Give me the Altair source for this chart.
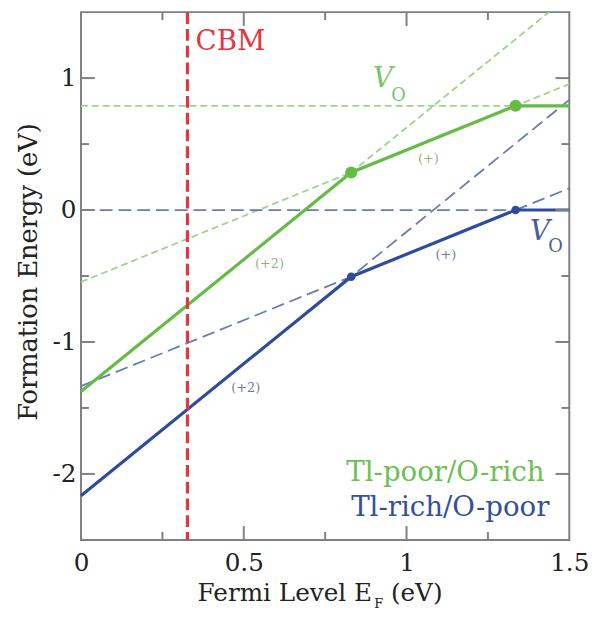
import altair as alt
import pandas as pd

FONT = "DejaVu Serif"
GREEN = "#64bc45"
GREEN_D = "#9ed38a"
BLUE = "#2e4b9e"
BLUE_D = "#6a7bb5"
RED = "#e4363f"
GREY = "#808080"
INK = "#222222"

# ---- data ----
# solid lines (lowest-energy charge state), knots at transition levels
green_x = [0, 0.83, 1.335, 1.5]
green_e = [-1.375, 0.285, 0.79, 0.79]
blue_x = [0, 0.83, 1.335, 1.5]
blue_e = [-2.165, -0.505, 0.0, 0.0]

# dashed lines: each charge state from x=0 to x=1.5 (q = 0, +1, +2)
charge_states = ["0", "+1", "+2"]
dash_x0 = [0, 0, 0]
dash_x1 = [1.5, 1.5, 1.5]
green_dash_e0 = [0.79, -0.545, -1.375]
green_dash_e1 = [0.79, 0.955, 1.625]
blue_dash_e0 = [0.0, -1.335, -2.165]
blue_dash_e1 = [0.0, 0.165, 0.835]

# transition-level dots
trans_x = [0.83, 1.335]
green_trans_e = [0.285, 0.79]
blue_trans_e = [-0.505, 0.0]

# conduction band minimum
cbm_x = [0.327]

# axis ticks
x_labels = [0, 0.5, 1, 1.5]
y_labels = [-2, -1, 0, 1]
x_major = [0.5, 1.0]
x_minor = [0.25, 0.75, 1.25]
y_major = [-2, -1, 0, 1]
y_minor = [-1.5, -0.5, 0.5]

W, H = 495, 535

xs = alt.Scale(domain=[0, 1.5], nice=False, zero=False)
ys = alt.Scale(domain=[-2.5, 1.5], nice=False, zero=False)

X_AXIS = alt.Axis(values=x_labels, labelExpr="'' + datum.value",
                  tickSize=0, domain=False, grid=False, labelPadding=11,
                  labelFont=FONT, labelFontSize=25, labelColor=INK,
                  labelFlush=False, labelOverlap=False, title=None)
Y_AXIS = alt.Axis(values=y_labels, labelExpr="'' + datum.value",
                  tickSize=0, domain=False, grid=False, labelPadding=5,
                  labelFont=FONT, labelFontSize=25, labelColor=INK,
                  labelFlush=False, labelOverlap=False,
                  title="Formation Energy (eV)", titleFont=FONT,
                  titleFontSize=26, titleFontWeight="normal", titleColor=INK,
                  titleX=-45, titleY=263, titleAngle=270, titleAlign="center",
                  titleBaseline="alphabetic")

def X(f="x"):
    return alt.X(f, type="quantitative", scale=xs, axis=X_AXIS)

def Y(f="y"):
    return alt.Y(f, type="quantitative", scale=ys, axis=Y_AXIS)

def dashes(e0, e1, color, dash, width):
    df = pd.DataFrame({"q": charge_states, "x": dash_x0, "x2": dash_x1, "y": e0, "y2": e1})
    return alt.Chart(df).mark_rule(color=color, strokeDash=dash, strokeWidth=width, clip=True).encode(
        x=X(), x2="x2", y=Y(), y2="y2")

green_dash = dashes(green_dash_e0, green_dash_e1, GREEN_D, [7, 4], 1.8)
blue_dash = dashes(blue_dash_e0, blue_dash_e1, BLUE_D, [13, 6], 1.8)

green_line = alt.Chart(pd.DataFrame({"x": green_x, "y": green_e})).mark_line(
    color=GREEN, strokeWidth=3.2).encode(x=X(), y=Y())
blue_line = alt.Chart(pd.DataFrame({"x": blue_x, "y": blue_e})).mark_line(
    color=BLUE, strokeWidth=3.2).encode(x=X(), y=Y())

green_dots = alt.Chart(pd.DataFrame({"x": trans_x, "y": green_trans_e})).mark_circle(
    color=GREEN, size=150, opacity=1).encode(x=X(), y=Y())
blue_dots = alt.Chart(pd.DataFrame({"x": trans_x, "y": blue_trans_e})).mark_circle(
    color=BLUE, size=75, opacity=1).encode(x=X(), y=Y())

cbm = alt.Chart(pd.DataFrame({"x": cbm_x})).mark_rule(
    color=RED, strokeWidth=3.2, strokeDash=[12, 5]).encode(x=X())

def label(x, y, text, color, size, align="left", baseline="alphabetic", style="normal"):
    df = pd.DataFrame({"x": [x], "y": [y], "t": [text]})
    return alt.Chart(df).mark_text(color=color, font=FONT, fontSize=size, align=align,
                                   baseline=baseline, fontStyle=style).encode(
        x=X(), y=Y(), text="t:N")

texts = [
    label(0.352, 1.215, "CBM", RED, 28),
    label(0.897, 0.93, "V", "#7cc46a", 28, style="italic"),
    label(0.953, 0.825, "O", "#7cc46a", 18),
    label(1.379, -0.23, "V", "#4b5b9c", 28, style="italic"),
    label(1.435, -0.32, "O", "#4b5b9c", 18),
    label(0.579, -0.41, "(+2)", "#8fb37f", 13, align="center", baseline="middle"),
    label(1.067, 0.39, "(+)", "#8fb37f", 13, align="center", baseline="middle"),
    label(1.121, -0.34, "(+)", "#6c79a8", 13, align="center", baseline="middle"),
    label(0.506, -1.35, "(+2)", "#6c79a8", 13, align="center", baseline="middle"),
    label(1.424, -2.056, "Tl-poor/O-rich", "#6cc052", 28, align="right"),
    label(1.439, -2.318, "Tl-rich/O-poor", "#34509a", 28, align="right"),
    # x-axis title with subscript
    label(0.358, -2.96, "Fermi Level E", INK, 25),
    label(0.901, -3.015, "F", INK, 13),
    label(0.952, -2.96, "(eV)", INK, 25),
]

def xticks(vals, length):
    df = pd.DataFrame({"x": vals})
    b = alt.Chart(df).mark_rule(color=GREY, strokeWidth=2).encode(
        x=X(), y=alt.value(H), y2=alt.value(H - length))
    t = alt.Chart(df).mark_rule(color=GREY, strokeWidth=2).encode(
        x=X(), y=alt.value(0), y2=alt.value(length))
    return [b, t]

def yticks(vals, length):
    df = pd.DataFrame({"y": vals})
    l = alt.Chart(df).mark_rule(color=GREY, strokeWidth=2).encode(
        y=Y(), x=alt.value(0), x2=alt.value(length))
    r = alt.Chart(df).mark_rule(color=GREY, strokeWidth=2).encode(
        y=Y(), x=alt.value(W), x2=alt.value(W - length))
    return [l, r]

ticks = xticks(x_major, 14) + xticks(x_minor, 8) + yticks(y_major, 14) + yticks(y_minor, 8)

chart = alt.layer(
    green_dash, blue_dash, green_line, blue_line, cbm, green_dots, blue_dots,
    *texts, *ticks
).properties(
    width=W, height=H,
    autosize=alt.AutoSizeParams(type="none"),
    padding={"left": 74, "top": 0, "right": 22, "bottom": 76},
    background="white",
).configure_view(stroke=GREY, strokeWidth=2)

chart.save("out.html", embed_options={"renderer": "svg", "actions": False})
